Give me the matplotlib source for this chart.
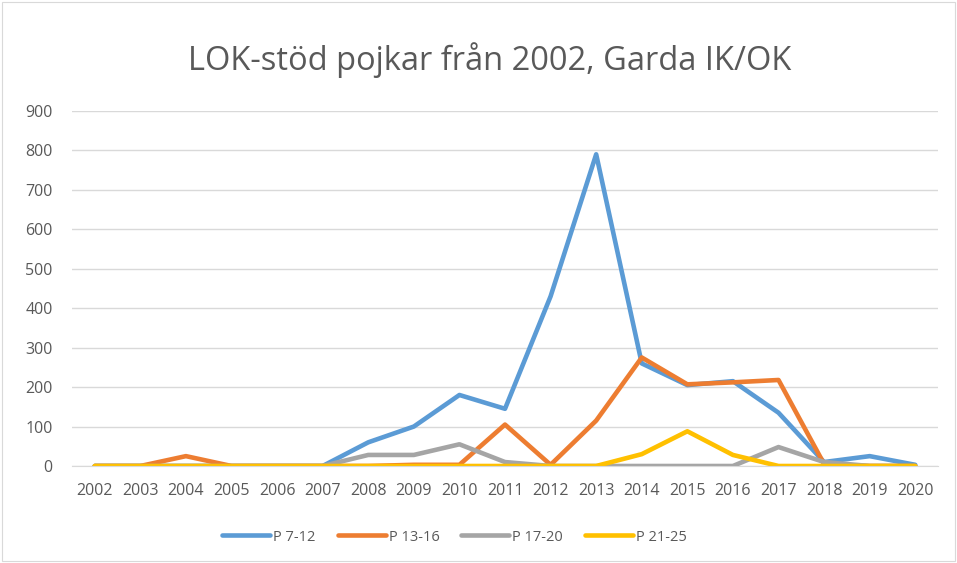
import matplotlib
matplotlib.use("Agg")
import matplotlib.pyplot as plt
import numpy as np

years = [str(y) for y in range(2002, 2021)]
p7_12 = [0, 0, 0, 0, 0, 0, 60, 100, 180, 145, 430, 790, 260, 205, 215, 135, 10, 25, 3]
p13_16 = [0, 0, 25, 0, 0, 0, 0, 3, 3, 105, 3, 115, 275, 207, 212, 218, 5, 0, 0]
p17_20 = [0, 0, 0, 0, 0, 0, 28, 28, 55, 10, 0, 0, 0, 0, 0, 48, 10, 0, 0]
p21_25 = [0, 0, 0, 0, 0, 0, 0, 0, 0, 0, 0, 0, 30, 88, 28, 0, 0, 0, 0]
series_names = ["P 7-12", "P 13-16", "P 17-20", "P 21-25"]
colors = ["#5B9BD5", "#ED7D31", "#A5A5A5", "#FFC000"]
yticks = list(range(0, 1000, 100))

plt.rcParams['font.family'] = ['Open Sans', 'DejaVu Sans']

fig = plt.figure(figsize=(9.57, 5.63), dpi=100)
fig.patches.append(plt.Rectangle((0.002, 0.003), 0.996, 0.994, transform=fig.transFigure,
                                 fill=False, edgecolor="#D9D9D9", linewidth=0.8))
ax = fig.add_axes([0.0752, 0.1723, 0.905, 0.6307])
x = np.arange(len(years))
for vals, name, c in zip([p7_12, p13_16, p17_20, p21_25], series_names, colors):
    ax.plot(x, vals, color=c, linewidth=3.3, label=name, solid_capstyle='round', solid_joinstyle='round')

ax.set_xlim(-0.5, len(years) - 0.5)
ax.set_ylim(0, 900)
ax.set_yticks(yticks)
ax.set_xticks(x)
ax.set_xticklabels(years)
ax.grid(axis='y', color="#D9D9D9", linewidth=1)
ax.set_axisbelow(True)
for s in ['top', 'right', 'left']:
    ax.spines[s].set_visible(False)
ax.spines['bottom'].set_color("#D9D9D9")
ax.tick_params(axis='both', length=0, labelsize=11.5, colors="#595959")
ax.tick_params(axis='x', pad=12)
ax.tick_params(axis='y', pad=14)

fig.text(0.512, 0.893, "LOK-stöd pojkar från 2002, Garda IK/OK", ha='center', va='center',
         fontsize=23.5, color="#595959")
leg = fig.legend(loc='center', bbox_to_anchor=(0.475, 0.046), ncol=4, frameon=False,
                 fontsize=10.5, handlelength=3.3, columnspacing=1.5, handletextpad=0.2)
for t in leg.get_texts():
    t.set_color("#595959")

fig.savefig("out.png", dpi=100)
